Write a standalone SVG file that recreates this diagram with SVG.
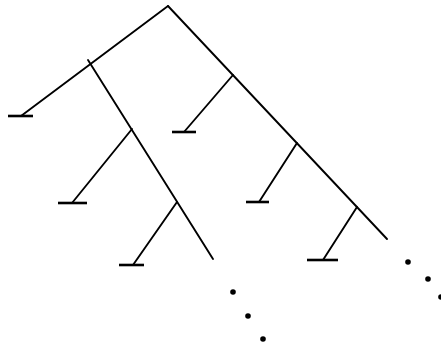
<svg xmlns="http://www.w3.org/2000/svg" width="441" height="346" viewBox="0 0 441 346">
<style>
.e{stroke:#000;stroke-width:1.9;fill:none;stroke-linecap:round}
.b{stroke:#000;stroke-width:2.6;fill:none}
.d{fill:#000}
</style>
<rect width="441" height="346" fill="#fff"/>
<g id="connectors">
<line class="e" x1="168" y1="6" x2="21" y2="116"/>
<line class="e" x1="168" y1="6" x2="387" y2="239"/>
<line class="e" x1="88" y1="60" x2="213" y2="259"/>
<line class="e" x1="132" y1="129" x2="72" y2="203"/>
<line class="e" x1="177" y1="202" x2="133" y2="265"/>
<line class="e" x1="233" y1="75" x2="184" y2="132"/>
<line class="e" x1="297" y1="143" x2="259" y2="202"/>
<line class="e" x1="357" y1="207" x2="323" y2="260"/>
</g>
<g id="leaf1"><line class="b" x1="8" y1="116" x2="33" y2="116"/></g>
<g id="leaf2"><line class="b" x1="58" y1="203" x2="87" y2="203"/></g>
<g id="leaf3"><line class="b" x1="119" y1="265" x2="144" y2="265"/></g>
<g id="leaf4"><line class="b" x1="172" y1="132" x2="196" y2="132"/></g>
<g id="leaf5"><line class="b" x1="246" y1="202" x2="269" y2="202"/></g>
<g id="leaf6"><line class="b" x1="307" y1="260" x2="338" y2="260"/></g>
<g id="dots">
<circle class="d" cx="233" cy="292" r="2.8"/>
<circle class="d" cx="248" cy="316" r="2.8"/>
<circle class="d" cx="263" cy="339" r="2.8"/>
<circle class="d" cx="408" cy="262" r="2.8"/>
<circle class="d" cx="428" cy="279" r="2.8"/>
<circle class="d" cx="441" cy="297" r="2.8"/>
</g>
</svg>
